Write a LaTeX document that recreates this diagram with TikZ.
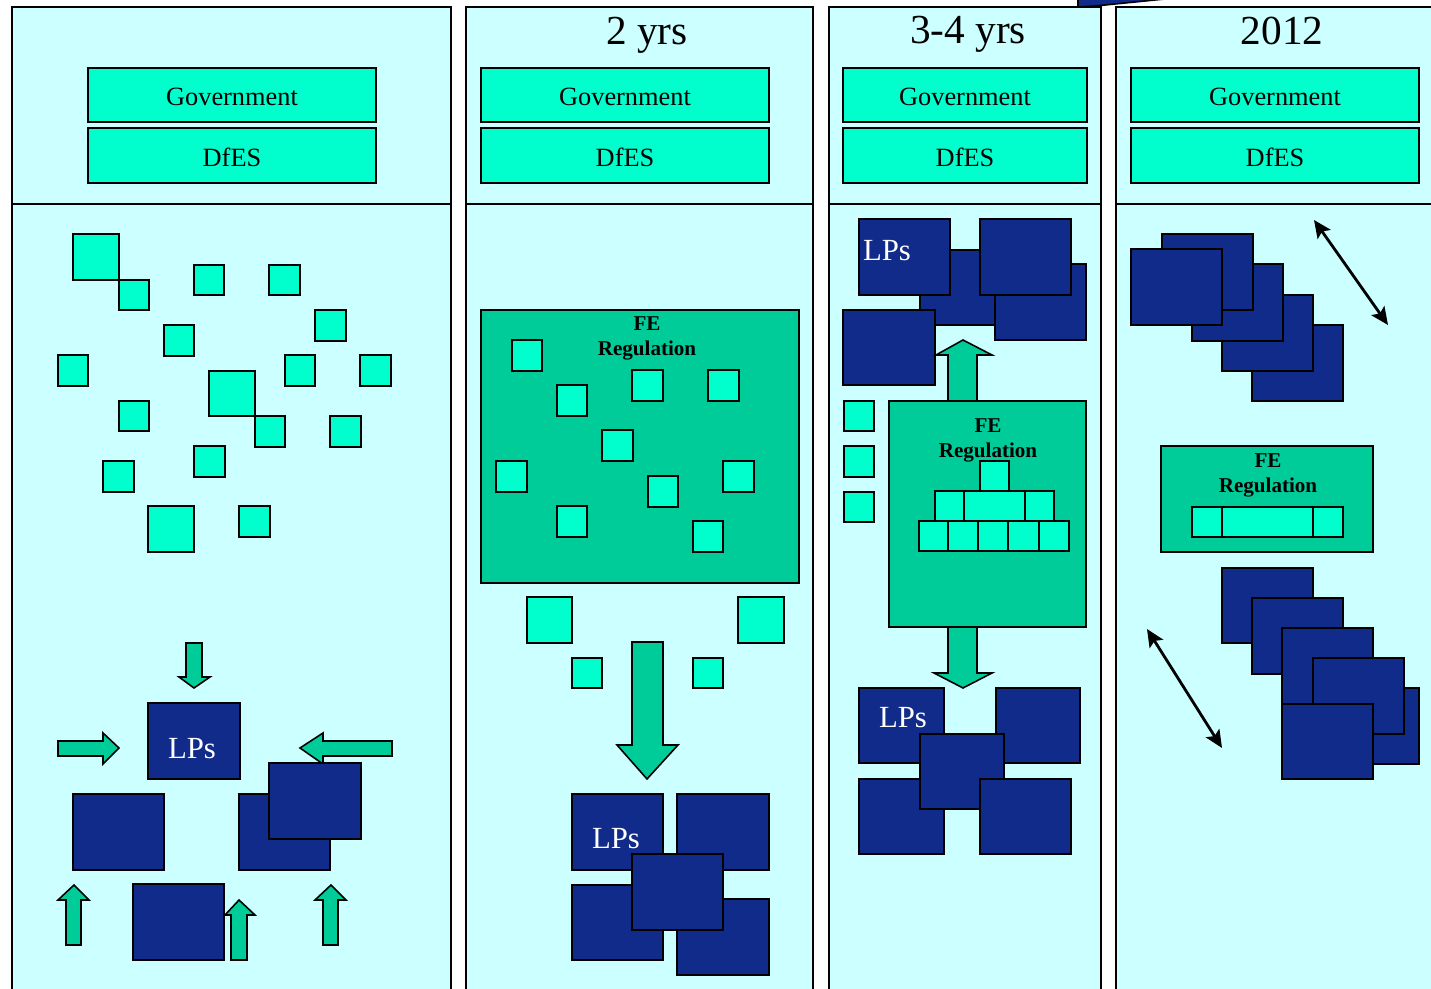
\documentclass[tikz,border=0pt]{standalone}
\usepackage{fontspec}
\setmainfont{Liberation Serif}
\usetikzlibrary{arrows.meta}
\definecolor{bgc}{HTML}{CCFFFF}
\definecolor{aqua}{HTML}{00FFCC}
\definecolor{feg}{HTML}{00CC99}
\definecolor{dblue}{HTML}{112B8B}
\newcommand\drawbox[7]{\node[#2, inner sep=0pt, outer sep=0pt, minimum width={(#5-#3)*0.02cm}, minimum height={(#6-#4)*0.02cm}] (#1) at ({(#3+#5)/2},{(#4+#6)/2}) {#7};}
\newcommand\aqsq[4]{\draw[sqr] (#1,#2) rectangle (#3,#4);}
\newcommand\dkbox[4]{\draw[lp] (#1,#2) rectangle (#3,#4);}
\begin{document}
\begin{tikzpicture}[x=0.02cm,y=-0.02cm,
 panel/.style={draw=black, fill=bgc, line width=0.9pt},
 govbox/.style={draw=black, fill=aqua, line width=1.5pt, font=\fontsize{15}{18}\selectfont, text height=12.2pt, text depth=0pt},
 sqr/.style={draw=black, fill=aqua, line width=1pt},
 lp/.style={draw=black, fill=dblue, line width=0.9pt},
 fe/.style={draw=black, fill=feg, line width=1.2pt},
 barrow/.style={draw=black, fill=feg, line width=0.9pt, line join=miter},
 lptext/.style={text=white, font=\fontsize{17.5}{20}\selectfont, inner sep=0pt},
 fetext/.style={font=\bfseries\fontsize{12}{14.2}\selectfont, align=center, inner sep=0pt},
 title/.style={font=\fontsize{23.5}{28}\selectfont, inner sep=0pt, anchor=base},
 dbl/.style={{Stealth[length=10pt,width=9pt,inset=2pt]}-{Stealth[length=10pt,width=9pt,inset=2pt]}, line width=1.6pt}
]
\useasboundingbox (0,0) rectangle (1431,989);
\clip (0,0) rectangle (1431,989);
\fill[white] (0,0) rectangle (1431,989);

% panels
\draw[panel] (12,7) rectangle (451,1010);
\draw[panel] (12,204) -- (451,204);
\draw[panel] (466,7) rectangle (813,1010);
\draw[panel] (466,204) -- (813,204);
\draw[panel] (829,7) rectangle (1101,1010);
\draw[panel] (829,204) -- (1101,204);
\draw[panel] (1116,7) rectangle (1450,1010);
\draw[panel] (1116,204) -- (1450,204);

% top artifact
\draw[lp] (1078,-4) -- (1078,7) -- (1095,6) -- (1165,-1) -- (1165,-4) -- cycle;

% titles
\node[title] (t2) at (647,45) {2 yrs};
\node[title] (t3) at (968,44) {3-4 yrs};
\node[title] (t4) at (1282,45) {2012};

% government / DfES
\drawbox{g1}{govbox}{88}{68}{376}{122}{Government}
\drawbox{d1}{govbox}{88}{128}{376}{183}{DfES}
\drawbox{g2}{govbox}{481}{68}{769}{122}{Government}
\drawbox{d2}{govbox}{481}{128}{769}{183}{DfES}
\drawbox{g3}{govbox}{843}{68}{1087}{122}{Government}
\drawbox{d3}{govbox}{843}{128}{1087}{183}{DfES}
\drawbox{g4}{govbox}{1131}{68}{1419}{122}{Government}
\drawbox{d4}{govbox}{1131}{128}{1419}{183}{DfES}

% ===== Panel 1 =====
\aqsq{73}{234}{119}{280}
\aqsq{119}{280}{149}{310}
\aqsq{194}{265}{224}{295}
\aqsq{269}{265}{300}{295}
\aqsq{315}{310}{346}{341}
\aqsq{164}{325}{194}{356}
\aqsq{58}{355}{88}{386}
\aqsq{285}{355}{315}{386}
\aqsq{360}{355}{391}{386}
\aqsq{209}{371}{255}{416}
\aqsq{255}{416}{285}{447}
\aqsq{119}{401}{149}{431}
\aqsq{330}{416}{361}{447}
\aqsq{194}{446}{225}{477}
\aqsq{103}{461}{134}{492}
\aqsq{148}{506}{194}{552}
\aqsq{239}{506}{270}{537}

\draw[barrow] (186,643) -- (202,643) -- (202,677) -- (210,677) -- (194,688) -- (179,677) -- (186,677) -- cycle;
\draw[barrow] (58,741) -- (103,741) -- (103,733) -- (119,748) -- (103,764) -- (103,756) -- (58,756) -- cycle;
\draw[barrow] (392,741) -- (323,741) -- (323,733) -- (300,748) -- (323,764) -- (323,756) -- (392,756) -- cycle;
\drawbox{lp1}{lp}{148}{703}{240}{779}{}
\node[lptext] (lp1t) at (192,749) {LPs};
\dkbox{73}{794}{164}{870}
\dkbox{239}{794}{330}{870}
\dkbox{269}{763}{361}{839}
\dkbox{133}{884}{224}{960}
\draw[barrow] (66,945) -- (66,900) -- (58,900) -- (74,885) -- (89,900) -- (81,900) -- (81,945) -- cycle;
\draw[barrow] (231,960) -- (231,915) -- (225,915) -- (239,900) -- (255,915) -- (247,915) -- (247,960) -- cycle;
\draw[barrow] (323,945) -- (323,900) -- (315,900) -- (331,885) -- (346,900) -- (338,900) -- (338,945) -- cycle;

% ===== Panel 2 =====
\drawbox{fe2}{fe}{481}{310}{799}{583}{}
\node[fetext] (fe2t) at (647,338) {FE\\Regulation};
\aqsq{512}{340}{542}{371}
\aqsq{557}{385}{587}{416}
\aqsq{632}{370}{663}{401}
\aqsq{708}{370}{739}{401}
\aqsq{602}{430}{633}{461}
\aqsq{496}{461}{527}{492}
\aqsq{648}{476}{678}{507}
\aqsq{723}{461}{754}{492}
\aqsq{557}{506}{587}{537}
\aqsq{693}{521}{723}{552}

\aqsq{527}{597}{572}{643}
\aqsq{738}{597}{784}{643}
\aqsq{572}{658}{602}{688}
\aqsq{693}{658}{723}{688}
\draw[barrow] (632,642) -- (663,642) -- (663,745) -- (678,745) -- (647,779) -- (617,745) -- (632,745) -- cycle;

\dkbox{572}{794}{663}{870}
\dkbox{677}{794}{769}{870}
\dkbox{572}{885}{663}{960}
\dkbox{677}{899}{769}{975}
\dkbox{632}{854}{723}{930}
\node[lptext] (lp2t) at (616,839) {LPs};

% ===== Panel 3 =====
\dkbox{920}{250}{1011}{325}
\dkbox{859}{219}{950}{295}
\dkbox{995}{264}{1086}{340}
\dkbox{980}{219}{1071}{295}
\dkbox{843}{310}{935}{385}
\node[lptext] (lp3t) at (887,251) {LPs};
\draw[barrow] (948,401) -- (948,355) -- (936,355) -- (963,340) -- (992,355) -- (977,355) -- (977,401) -- cycle;
\drawbox{fe3}{fe}{889}{401}{1086}{627}{}
\node[fetext] (fe3t) at (988,440) {FE\\Regulation};
\aqsq{844}{401}{874}{431}
\aqsq{844}{446}{874}{477}
\aqsq{844}{492}{874}{522}
\aqsq{980}{461}{1009}{491}
\aqsq{935}{491}{964}{521}
\aqsq{964}{491}{1025}{521}
\aqsq{1025}{491}{1054}{521}
\aqsq{919}{521}{948}{551}
\aqsq{948}{521}{978}{551}
\aqsq{978}{521}{1008}{551}
\aqsq{1008}{521}{1039}{551}
\aqsq{1039}{521}{1069}{551}
\draw[barrow] (948,627) -- (977,627) -- (977,673) -- (992,673) -- (963,688) -- (934,673) -- (948,673) -- cycle;
\dkbox{859}{688}{944}{763}
\dkbox{996}{688}{1080}{763}
\dkbox{859}{779}{944}{854}
\dkbox{920}{734}{1004}{809}
\dkbox{980}{779}{1071}{854}
\node[lptext] (lp4t) at (903,718) {LPs};

% ===== Panel 4 =====
\dkbox{1252}{325}{1343}{401}
\dkbox{1222}{295}{1313}{371}
\dkbox{1192}{264}{1283}{341}
\dkbox{1162}{234}{1253}{310}
\dkbox{1131}{249}{1222}{325}
\coordinate (da1) at (1314,220);
\coordinate (da2) at (1388,325);
\draw[dbl] (da1) -- (da2);

\drawbox{fe4}{fe}{1161}{446}{1373}{552}{}
\node[fetext] (fe4t) at (1268,475) {FE\\Regulation};
\aqsq{1192}{507}{1222}{537}
\aqsq{1222}{507}{1313}{537}
\aqsq{1313}{507}{1343}{537}

\dkbox{1222}{568}{1313}{643}
\dkbox{1252}{598}{1343}{674}
\dkbox{1282}{628}{1373}{704}
\dkbox{1328}{688}{1419}{764}
\dkbox{1313}{658}{1404}{734}
\dkbox{1282}{704}{1373}{779}
\coordinate (db1) at (1147,629);
\coordinate (db2) at (1222,748);
\draw[dbl] (db1) -- (db2);
\end{tikzpicture}
\end{document}
